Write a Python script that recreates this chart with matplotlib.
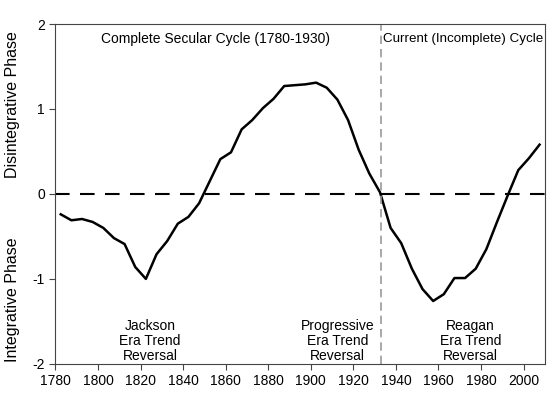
import matplotlib
matplotlib.use("Agg")
import matplotlib.pyplot as plt

plt.rcParams['font.family'] = ['Liberation Sans', 'DejaVu Sans']
plt.rcParams['axes.unicode_minus'] = False

# --- Dados ---
years = [1782.5 + 5 * i for i in range(46)]
values = [-0.24, -0.31, -0.295, -0.33, -0.40, -0.52, -0.59, -0.86, -1.00, -0.71,
          -0.555, -0.35, -0.27, -0.11, 0.15, 0.41, 0.49, 0.76, 0.87, 1.01,
          1.12, 1.27, 1.28, 1.29, 1.31, 1.25, 1.11, 0.87, 0.52, 0.24,
          0.02, -0.40, -0.58, -0.88, -1.12, -1.26, -1.18, -0.99, -0.99, -0.88,
          -0.65, -0.33, -0.02, 0.28, 0.42, 0.58]
x_ticks = list(range(1780, 2001, 20))
y_ticks = [-2, -1, 0, 1, 2]
split_year = 1933
reversals = [(1824.5, "Jackson\nEra Trend\nReversal"),
             (1912.5, "Progressive\nEra Trend\nReversal"),
             (1975, "Reagan\nEra Trend\nReversal")]

fig = plt.figure(figsize=(5.6, 4.07), dpi=100)
ax = fig.add_axes([0.099, 0.106, 0.874, 0.835])

ax.plot(years, values, color='black', lw=1.8)
ax.axhline(0, color='black', lw=1.5, dashes=(7, 5))
ax.axvline(split_year, color='#999999', lw=1.2, dashes=(5, 3))

ax.set_xlim(1780, 2010)
ax.set_ylim(-2, 2)
ax.set_xticks(x_ticks)
ax.set_yticks(y_ticks)
ax.tick_params(labelsize=10, length=4, color='#444444')
for s in ax.spines.values():
    s.set_color('#444444')

ax.text(1855, 1.82, "Complete Secular Cycle (1780-1930)", ha='center', va='center', fontsize=10)
ax.text(1971.8, 1.82, "Current (Incomplete) Cycle", ha='center', va='center', fontsize=9.6)
for x, txt in reversals:
    ax.text(x, -1.73, txt, ha='center', va='center', fontsize=10, linespacing=1.1)

fig.text(0.022, 0.742, "Disintegrative Phase", rotation=90, ha='center', va='center', fontsize=11.5)
fig.text(0.022, 0.263, "Integrative Phase", rotation=90, ha='center', va='center', fontsize=11.5)

plt.savefig("out.png", dpi=100)
